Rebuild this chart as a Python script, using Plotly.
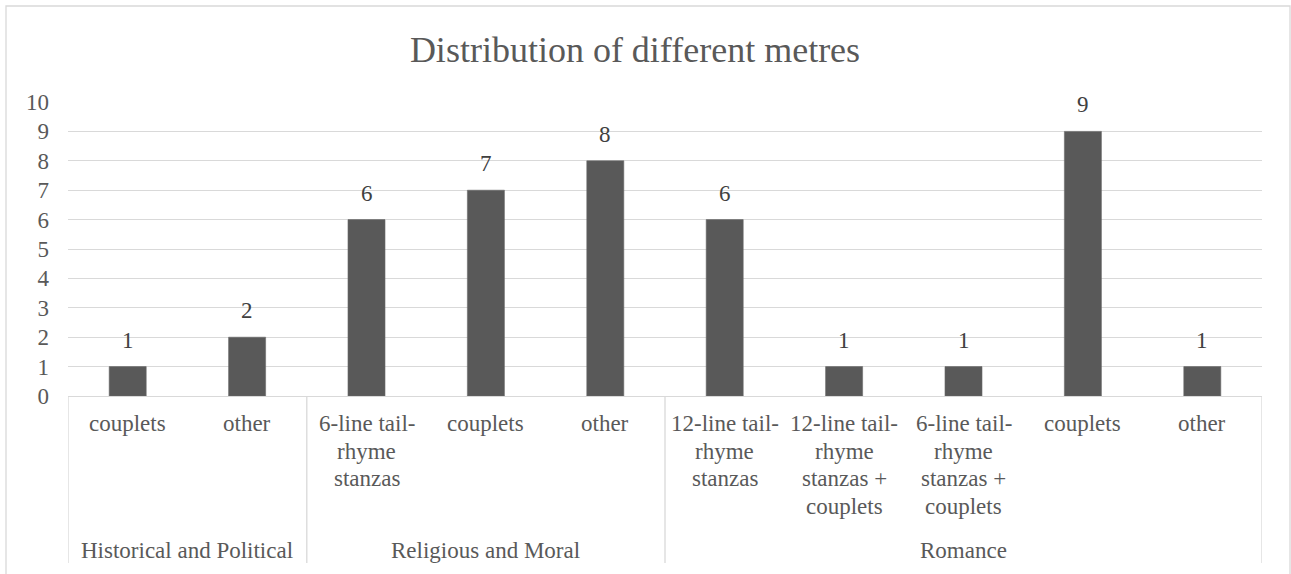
import plotly.graph_objects as go

# Metre counts per genre (bars in display order)
genres = ["Historical and Political", "Historical and Political",
          "Religious and Moral", "Religious and Moral", "Religious and Moral",
          "Romance", "Romance", "Romance", "Romance", "Romance"]
metres = ["couplets", "other",
          "6-line tail-\nrhyme\nstanzas", "couplets", "other",
          "12-line tail-\nrhyme\nstanzas", "12-line tail-\nrhyme\nstanzas +\ncouplets",
          "6-line tail-\nrhyme\nstanzas +\ncouplets", "couplets", "other"]
counts = [1, 2, 6, 7, 8, 6, 1, 1, 9, 1]
y_ticks = list(range(0, 11))

FONT = "Liberation Serif"
AXIS_GREY = "#595959"
LABEL_GREY = "#404040"
LINE_GREY = "#d9d9d9"
BAR_GREY = "#595959"

W, H = 1291, 574
M_L, M_R, M_T, M_B = 68, 29, 102, 178
plot_h = H - M_T - M_B

xs = list(range(len(counts)))

fig = go.Figure()
fig.add_trace(go.Bar(
    x=xs, y=counts,
    marker=dict(color=BAR_GREY, line=dict(color="#6a6a6a", width=0.6)),
    hoverinfo="x+y",
    showlegend=False,
))

annotations = []

# value labels above each bar
for x, v in zip(xs, counts):
    annotations.append(dict(
        x=x, y=v, xref="x", yref="y", text=str(v), showarrow=False,
        yanchor="bottom", yshift=12,
        font=dict(family=FONT, size=23, color=LABEL_GREY),
    ))

# first-level category labels, one annotation per text line
LINE_PITCH = 27.5
for x, label in zip(xs, metres):
    for k, line in enumerate(label.split("\n")):
        annotations.append(dict(
            x=x, y=0, xref="x", yref="paper", text=line, showarrow=False,
            yanchor="top", yshift=-(13 + k * LINE_PITCH),
            font=dict(family=FONT, size=23, color=AXIS_GREY),
        ))

# second-level (genre) labels and divider lines
spans = []
start = 0
for i in range(1, len(genres) + 1):
    if i == len(genres) or genres[i] != genres[start]:
        spans.append((genres[start], start, i - 1))
        start = i

shapes = []
divider_bottom = -(563 - (H - M_B)) / plot_h
boundaries = [spans[0][1] - 0.5] + [end + 0.5 for _, _, end in spans]
for b in boundaries:
    shapes.append(dict(
        type="line", xref="x", yref="paper", x0=b, x1=b, y0=0, y1=divider_bottom,
        line=dict(color=LINE_GREY, width=1.3), layer="below",
    ))
for name, s, e in spans:
    annotations.append(dict(
        x=(s + e) / 2, y=0, xref="x", yref="paper", text=name, showarrow=False,
        yanchor="top", yshift=-140,
        font=dict(family=FONT, size=23, color=AXIS_GREY),
    ))

# chart-area border
plot_w = W - M_L - M_R
shapes.append(dict(
    type="rect", xref="paper", yref="paper",
    x0=(6 - M_L) / plot_w, x1=(1290 - M_L) / plot_w,
    y0=-(H + 10 - (H - M_B)) / plot_h, y1=(H - M_B - 6) / plot_h,
    line=dict(color=LINE_GREY, width=1.3), fillcolor="rgba(0,0,0,0)", layer="below",
))

fig.update_layout(
    width=W, height=H,
    margin=dict(l=M_L, r=M_R, t=M_T, b=M_B),
    paper_bgcolor="white", plot_bgcolor="white",
    bargap=0.69,
    font=dict(family=FONT, color=AXIS_GREY),
    title=dict(
        text="Distribution of different metres",
        x=635 / W, xanchor="center",
        y=1 - 36.5 / H, yanchor="top",
        font=dict(family=FONT, size=36, color=AXIS_GREY),
    ),
    xaxis=dict(
        range=[-0.5, len(counts) - 0.5],
        showticklabels=False, showgrid=False, zeroline=False,
        showline=True, linecolor=LINE_GREY, linewidth=1.3,
        fixedrange=True,
    ),
    yaxis=dict(
        range=[0, 10], tickvals=y_ticks,
        showgrid=True, gridcolor=LINE_GREY, gridwidth=1.3,
        zeroline=False, showline=False,
        tickfont=dict(family=FONT, size=23, color=AXIS_GREY),
        ticklabelstandoff=18,
        fixedrange=True,
    ),
    annotations=annotations,
    shapes=shapes,
)

fig.write_html("out.html")
